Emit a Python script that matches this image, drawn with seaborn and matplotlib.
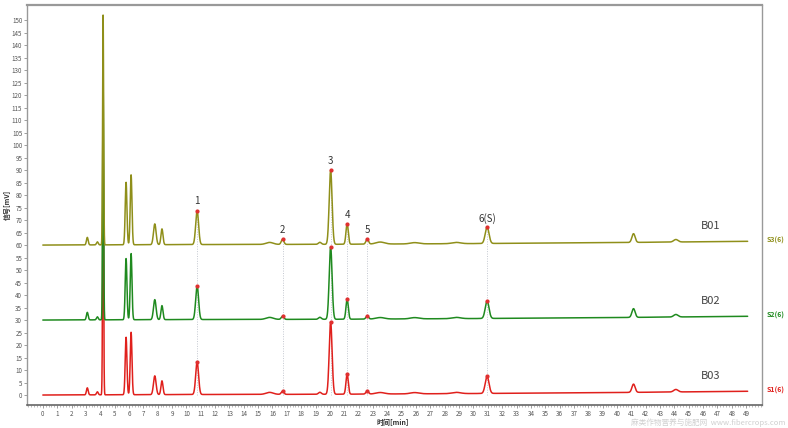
import numpy as np
import pandas as pd
import matplotlib
matplotlib.use("Agg")
import matplotlib.pyplot as plt
import seaborn as sns
from matplotlib.ticker import MultipleLocator

# ---- data ----
samples = ["B03", "B02", "B01"]
channel_labels = ["S1(6)", "S2(6)", "S3(6)"]
offsets = [0, 30, 60]
colors = ["#e0201c", "#1f8a1f", "#8f8f1a"]

peak_times = [3.1, 3.8, 4.2, 5.8, 6.15, 7.8, 8.3, 10.75, 15.8, 16.7, 19.3,
              20.05, 21.2, 22.6, 23.5, 25.9, 28.8, 30.95, 41.15, 44.1]
peak_sigma = [0.06, 0.06, 0.035, 0.06, 0.06, 0.09, 0.07, 0.1, 0.25, 0.09, 0.1,
              0.1, 0.08, 0.09, 0.3, 0.3, 0.3, 0.13, 0.11, 0.15]
heights_B03 = [2.8, 1.2, 97, 23, 25, 7.5, 5.5, 13, 0.8, 1.2, 0.8,
               29, 8, 1.2, 0.6, 0.5, 0.5, 6.8, 3.3, 1.0]
heights_B02 = [3.0, 1.2, 95, 24.5, 26.5, 8, 5.6, 13.5, 0.8, 1.2, 0.8,
               29, 8, 1.2, 0.6, 0.5, 0.5, 7.0, 3.5, 1.0]
heights_B01 = [3.0, 1.2, 92, 25, 28, 8.3, 6.3, 13.6, 0.8, 2.0, 0.8,
               29.6, 8.2, 2.0, 0.8, 0.5, 0.5, 6.6, 3.5, 1.0]
heights = [heights_B03, heights_B02, heights_B01]

baseline_times = [0, 10, 20, 30, 40, 49.1]
baseline_values = [0, 0.2, 0.3, 0.6, 1.0, 1.5]

named_peaks = ["1", "2", "3", "4", "5", "6(S)"]
named_idx = [7, 9, 11, 12, 13, 17]

xticks = list(range(0, 50))
yticks = list(range(0, 151, 5))

# ---- build the traces ----
t = np.linspace(0, 49.1, 6000)
frames = []
for s, off, h in zip(samples, offsets, heights):
    y = np.interp(t, baseline_times, baseline_values) + off
    for pt, sg, ph in zip(peak_times, peak_sigma, h):
        y = y + ph * np.exp(-0.5 * ((t - pt) / sg) ** 2)
    frames.append(pd.DataFrame({"time": t, "signal": y, "sample": s}))
df = pd.concat(frames, ignore_index=True)

sns.set_style("ticks")
plt.rcParams["font.family"] = ["Noto Sans CJK SC", "DejaVu Sans"]

fig = plt.figure(figsize=(7.88, 4.28), dpi=100)
ax = fig.add_axes([0.0343, 0.0537, 0.9327, 0.9343])

# dotted guide lines at named peaks
for i in named_idx:
    top = offsets[2] + heights_B01[i]
    ax.plot([peak_times[i], peak_times[i]], [0, top], color="#c4c8d0",
            lw=0.7, ls=(0, (1, 1.5)), zorder=1)

for s, c in zip(samples, colors):
    sns.lineplot(data=df[df["sample"] == s], x="time", y="signal", color=c,
                 lw=1.1, ax=ax, legend=False, estimator=None, zorder=2)

# peak apex markers
for off, h in zip(offsets, heights):
    for i in named_idx:
        ax.plot(peak_times[i], off + h[i] + np.interp(peak_times[i], baseline_times, baseline_values),
                "o", color="#e03030", ms=2, zorder=3)

# peak labels
for name, i in zip(named_peaks, named_idx):
    ax.text(peak_times[i], offsets[2] + heights_B01[i] + 2.0, name,
            ha="center", va="bottom", fontsize=7, color="#333333")

# sample labels
for s, off in zip(samples, offsets):
    ax.text(46.5, off + 5.5, s, ha="center", va="bottom", fontsize=8, color="#444444")
for lab, off, c in zip(channel_labels, offsets, colors):
    ax.text(50.4, off + 2.0, lab, ha="left", va="center", fontsize=5,
            color=c, fontweight="bold", clip_on=False)

ax.set_xlim(-1.1, 50.1)
ax.set_ylim(-4, 156)
ax.set_xticks(xticks)
ax.set_yticks(yticks)
ax.xaxis.set_minor_locator(MultipleLocator(0.2))
ax.tick_params(axis="both", labelsize=4.5, labelcolor="#555555", color="#777777",
               length=2, width=0.5, pad=1.5)
ax.tick_params(axis="x", which="minor", length=1.2, width=0.4, color="#888888")

ax.set_xlabel("时间[min]", fontsize=5, fontweight="bold", color="#333333", labelpad=1)
ax.xaxis.set_label_coords(0.497, -0.034)
ax.set_ylabel("信号[mV]", fontsize=5, fontweight="bold", color="#333333", labelpad=4)
ax.yaxis.set_label_coords(-0.022, 0.5)

for side in ["top", "right", "left", "bottom"]:
    ax.spines[side].set_visible(True)
    ax.spines[side].set_color("#999999")
ax.spines["top"].set_linewidth(1.6)
ax.spines["left"].set_linewidth(1.0)
ax.spines["right"].set_linewidth(1.0)
ax.spines["bottom"].set_linewidth(1.2)
ax.spines["bottom"].set_color("#666666")

# watermark (single line, below the tick labels)
fig.text(0.997, 0.002, "麻类作物营养与施肥网  www.fibercrops.com", ha="right", va="bottom",
         fontsize=5.5, color="#d0d0d0")

fig.savefig("out.png", dpi=100, facecolor="white")
